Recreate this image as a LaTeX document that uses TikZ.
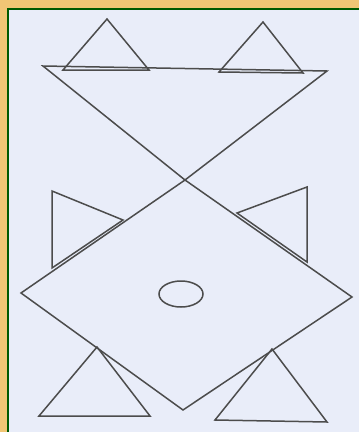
\documentclass[tikz,border=0pt]{standalone}
\begin{document}
\begin{tikzpicture}[x=1pt,y=-1pt,
  shape line/.style={draw=black!70, line width=1.5pt, line join=miter},
  frame line/.style={draw=green!35!black, line width=1.5pt}]
\definecolor{gold}{HTML}{F1C675}
\definecolor{paper}{HTML}{E9EDF9}
\useasboundingbox (0,0) rectangle (359,432);
\fill[gold] (0,0) rectangle (359,432);
\fill[paper] (8,9) rectangle (359,432);
\draw[frame line] (8,432) -- (8,9) -- (359,9);
% coordinates
\coordinate (tl) at (43,66);
\coordinate (tr) at (327,71);
\coordinate (x) at (185,180);
\coordinate (dr) at (352,297);
\coordinate (db) at (183,410);
\coordinate (dl) at (21,293);
% big inverted triangle
\draw[shape line] (tl) -- (tr) -- (x) -- cycle;
% small top triangles
\draw[shape line] (107,19) -- (63,70) -- (149,70) -- cycle;
\draw[shape line] (263,22) -- (219,72) -- (303,73) -- cycle;
% diamond
\draw[shape line] (x) -- (dr) -- (db) -- (dl) -- cycle;
% side triangles
\draw[shape line] (52,191) -- (123,220) -- (52,268) -- cycle;
\draw[shape line] (237,213) -- (307,187) -- (307,262) -- cycle;
% bottom triangles
\draw[shape line] (97,347) -- (39,416) -- (150,416) -- cycle;
\draw[shape line] (272,349) -- (215,420) -- (327,422) -- cycle;
% ellipse
\draw[shape line] (181,294) ellipse [x radius=22, y radius=13];
\end{tikzpicture}
\end{document}
